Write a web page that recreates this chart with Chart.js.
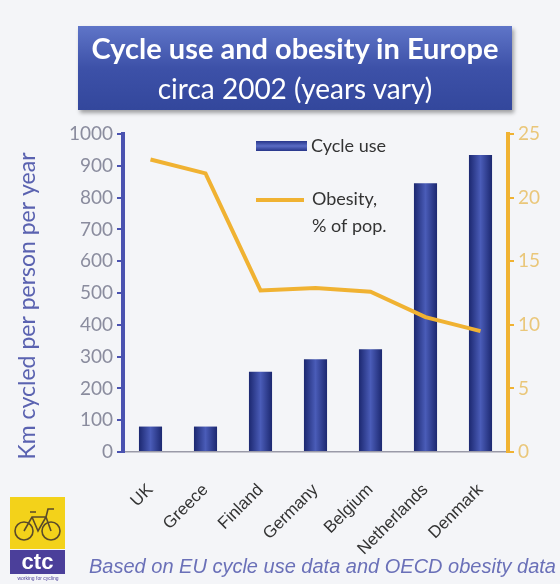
<!DOCTYPE html>
<html><head><meta charset="utf-8">
<script src="https://cdn.jsdelivr.net/npm/chart.js@4"></script>
<style>
html,body{margin:0;padding:0;background:#f4f5f8;}
#wrap{position:relative;width:560px;height:584px;overflow:hidden;background:#f4f5f8;}
#c{position:absolute;left:0;top:0;}
#title{position:absolute;left:78px;top:26px;width:434px;height:84px;
 background:linear-gradient(#5f75c8,#3d51a8 50%,#33479c);box-shadow:2px 3px 4px rgba(0,0,0,0.35);
 color:#fff;text-align:center;font-family:Lato,"Open Sans",sans-serif;}
#t1{font-weight:bold;font-size:29px;line-height:32px;margin-top:6px;}
#t2{font-size:28px;line-height:32px;margin-top:8px;}
#note{position:absolute;left:89px;top:555px;font-family:"Liberation Sans Narrow","Liberation Sans",sans-serif;font-style:italic;font-size:20px;color:#6a70b8;white-space:nowrap;}
#logoY{position:absolute;left:10px;top:497px;width:55px;height:52px;background:#f3d21a;}
#logoP{position:absolute;left:10px;top:550px;width:55px;height:24px;background:#4b3f9a;color:#fff;font:bold 22px "Liberation Sans",sans-serif;text-align:center;line-height:24px;}
#logoS{position:absolute;left:8px;top:575px;width:60px;font:5px sans-serif;color:#4b3f9a;text-align:center;}
</style></head><body>
<div id="wrap">
<canvas id="c" width="560" height="584"></canvas>
<div id="title"><div id="t1">Cycle use and obesity in Europe</div><div id="t2">circa 2002 (years vary)</div></div>
<div id="logoY"><svg width="55" height="52" viewBox="0 0 55 52"><g fill="none" stroke="#5a4a2a" stroke-width="1.6"><circle cx="14" cy="34" r="9"/><circle cx="41" cy="34" r="9"/><path d="M14 34 L22 20 L36 20 L41 34 M22 20 L28 34 L36 20 M20 15 L26 15 M36 20 L38 12 L44 12"/></g></svg></div>
<div id="logoP">ctc</div>
<div id="logoS">working for cycling</div>
<div id="note">Based on EU cycle use data and OECD obesity data</div>
</div>
<script>
const categories = ["UK","Greece","Finland","Germany","Belgium","Netherlands","Denmark"];
const cycleUse = [80, 80, 252, 292, 323, 845, 934];
const obesity = [23.0, 21.9, 12.7, 12.9, 12.6, 10.6, 9.5];
const leftTicks = [0,100,200,300,400,500,600,700,800,900,1000];
const rightTicks = [0,5,10,15,20,25];
const yTitle = 'Km cycled per person per year';

const AREA = {left:123, right:508, top:134, bottom:452};
const BAR_PCT = 0.42;

function barFill(ctx){
  const chart = ctx.chart;
  const xs = chart.scales && chart.scales.x;
  if(!xs || ctx.dataIndex === undefined) return '#2f3f90';
  const cx = xs.getPixelForValue(ctx.dataIndex);
  const w = (xs.width / categories.length) * BAR_PCT;
  if(!isFinite(cx) || !isFinite(w)) return '#2f3f90';
  const g = chart.ctx.createLinearGradient(cx - w/2, 0, cx + w/2, 0);
  g.addColorStop(0,'#1c2870');
  g.addColorStop(0.5,'#4a5cb8');
  g.addColorStop(1,'#1c2870');
  return g;
}

const extrasPlugin = {
  id:'extras',
  afterDraw(chart){
    const c = chart.ctx;
    c.save();
    const g = c.createLinearGradient(0,141,0,151);
    g.addColorStop(0,'#27358a'); g.addColorStop(0.5,'#5a6cc4'); g.addColorStop(1,'#27358a');
    c.fillStyle = g;
    c.fillRect(256,141,51,10);
    c.strokeStyle = '#f0b232'; c.lineWidth = 4;
    c.beginPath(); c.moveTo(256,200); c.lineTo(304,200); c.stroke();
    c.fillStyle = '#333'; c.font = '18px Lato, "Open Sans", sans-serif';
    c.textBaseline = 'middle'; c.textAlign = 'left';
    c.fillText('Cycle use', 311, 146);
    c.fillText('Obesity,', 312, 199);
    c.fillText('% of pop.', 312, 226);
    // y-axis title
    c.translate(28, 306);
    c.rotate(-Math.PI/2);
    c.textAlign = 'center';
    c.fillStyle = '#5a62b0';
    c.font = '23px Lato, "Open Sans", sans-serif';
    c.fillText(yTitle, 0, 0);
    c.restore();
  }
};

new Chart(document.getElementById('c'), {
  type:'bar',
  data:{
    labels:categories,
    datasets:[
      {type:'line', label:'Obesity, % of pop.', data:obesity, yAxisID:'y2', borderColor:'#f0b232', borderWidth:4, pointRadius:0, tension:0, order:0},
      {type:'bar', label:'Cycle use', data:cycleUse, yAxisID:'y', backgroundColor:barFill, barPercentage:BAR_PCT, categoryPercentage:1, order:1}
    ]
  },
  options:{
    responsive:false, animation:false, devicePixelRatio:1,
    layout:{padding:{top:AREA.top, left:0, right:0, bottom:0}},
    plugins:{legend:{display:false}, tooltip:{enabled:false}, title:{display:false}},
    scales:{
      x:{
        grid:{display:false},
        border:{display:true, color:'#9a9aa8', width:1.5},
        ticks:{maxRotation:45, minRotation:45, color:'#333', font:{size:17, family:'"Liberation Sans Narrow","Liberation Sans",sans-serif'}, padding:20},
        afterFit(s){ s.height = 584 - AREA.bottom; }
      },
      y:{
        position:'left', min:0, max:1000,
        afterBuildTicks(s){ s.ticks = leftTicks.map(v=>({value:v})); },
        grid:{drawOnChartArea:false, drawTicks:true, tickLength:6, color:'#4a52b0', lineWidth:2},
        border:{display:true, color:'#4a52b0', width:4},
        ticks:{color:'#8a8c9e', font:{size:19, family:'Lato, "Open Sans", sans-serif'}, padding:4, callback:(v)=>String(v)},
        afterFit(s){ s.width = AREA.left; }
      },
      y2:{
        position:'right', min:0, max:25,
        afterBuildTicks(s){ s.ticks = rightTicks.map(v=>({value:v})); },
        grid:{drawOnChartArea:false, drawTicks:true, tickLength:6, color:'#f0b232', lineWidth:2},
        border:{display:true, color:'#f0b232', width:4},
        ticks:{color:'#eac77a', font:{size:19, family:'Lato, "Open Sans", sans-serif'}, padding:4, callback:(v)=>String(v)},
        afterFit(s){ s.width = 560 - AREA.right; }
      }
    }
  },
  plugins:[extrasPlugin]
});
</script>
</body></html>
